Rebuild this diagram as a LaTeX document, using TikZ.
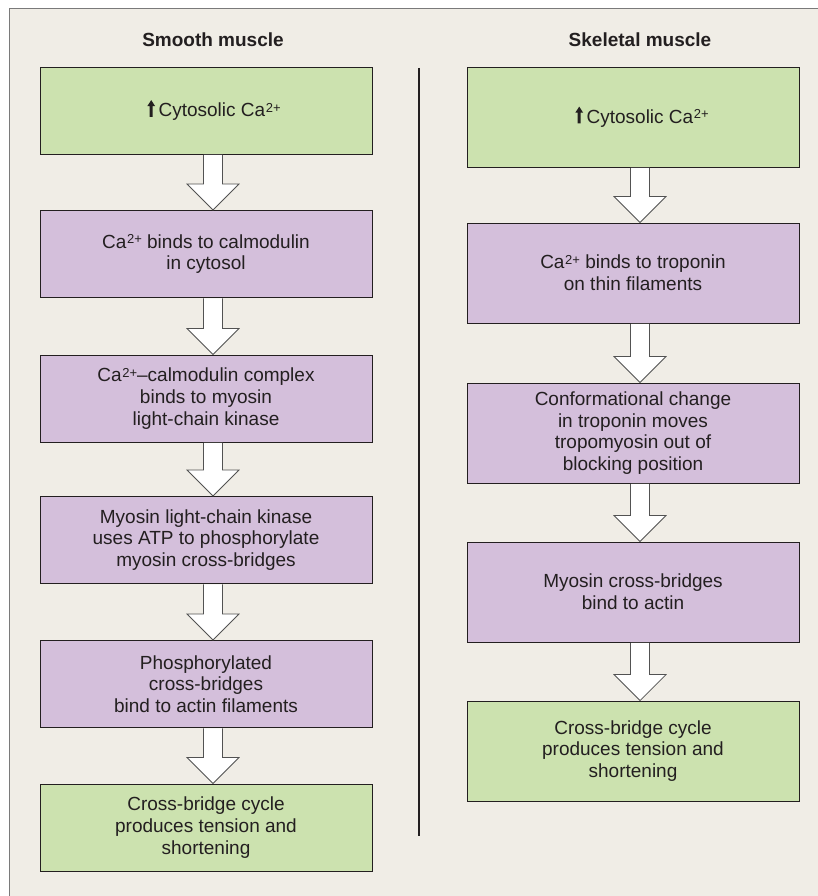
\documentclass[tikz,border=0pt]{standalone}
\usepackage{fontspec}
\setmainfont{Liberation Sans}
\usetikzlibrary{calc}

\definecolor{panelbg}{HTML}{F0EDE6}
\definecolor{panelrule}{HTML}{7A7A7A}
\definecolor{stepgreen}{HTML}{CCE2AF}
\definecolor{steppurple}{HTML}{D4BFDB}
\definecolor{inkgray}{HTML}{231F20}

% calcium ion with a raised charge
\newcommand\caion{Ca\kern0.6pt\raisebox{4.6pt}{\fontsize{13}{13}\selectfont 2+}}
% solid up arrow in front of the first step
\newcommand\uparr{\tikz[x=1pt,y=1pt,baseline=0pt]
  \fill[inkgray] (-1.5,0) -- (-1.5,10.8) -- (-3.9,10.8) -- (0,16.8)
    -- (3.9,10.8) -- (1.5,10.8) -- (1.5,0) -- cycle;\kern3.5pt}

% hollow block arrow from the bottom of one step to the top of the next
\newcommand\flowstep[2]{%
  \draw[flowarrow] let \p1=($(#1.south)+(7,0)$), \p2=($(#2.north)+(7,0)$) in
    (\x1-9.5pt,\y1-0.45pt) -- (\x1-9.5pt,\y2+26pt) -- (\x1-26pt,\y2+26pt)
    -- (\x1,\y2) -- (\x1+26pt,\y2+26pt) -- (\x1+9.5pt,\y2+26pt)
    -- (\x1+9.5pt,\y1-0.45pt);
}

\begin{document}
\begin{tikzpicture}[x=1pt,y=-1pt,
  font=\fontsize{19}{21.7}\selectfont, text=inkgray,
  stepbox/.style={draw=inkgray, line width=0.9pt, align=center,
    minimum width=332pt, inner sep=0pt},
  greenbox/.style={stepbox, fill=stepgreen},
  purplebox/.style={stepbox, fill=steppurple},
  lsmall/.style={minimum height=87pt},
  rtall/.style={minimum height=100pt},
  flowarrow/.style={draw=black!68, fill=white, line width=0.8pt, line join=miter},
  heading/.style={font=\fontsize{19}{21.7}\selectfont\bfseries}]

\useasboundingbox (0,0) rectangle (817,896);
\fill[white] (0,0) rectangle (817,896);
\draw[panelrule, fill=panelbg, line width=1pt] (9,9) rectangle (840,920);

% column headings and divider
\node[heading] (lhead) at (213,40) {Smooth muscle};
\node[heading] (rhead) at (640,40) {Skeletal muscle};
\draw[inkgray, line width=2pt] (419,68) -- (419,836);

% smooth muscle steps
\node[greenbox, lsmall]  (l1) at (206,110.5) {\hspace*{16pt}\uparr Cytosolic \caion};
\node[purplebox, lsmall] (l2) at (206,254)   {\caion{} binds to calmodulin\\in cytosol};
\node[purplebox, lsmall] (l3) at (206,398.5) {\caion–calmodulin complex\\binds to myosin\\light-chain kinase};
\node[purplebox, lsmall] (l4) at (206,540)   {Myosin light-chain kinase\\uses ATP to phosphorylate\\myosin cross-bridges};
\node[purplebox, lsmall] (l5) at (206,684)   {Phosphorylated\\cross-bridges\\bind to actin filaments};
\node[greenbox, lsmall]  (l6) at (206,827.5) {Cross-bridge cycle\\produces tension and\\shortening};

% skeletal muscle steps
\node[greenbox, rtall]  (r1) at (633,117) {\hspace*{18pt}\uparr Cytosolic \caion};
\node[purplebox, rtall] (r2) at (633,273) {\caion{} binds to troponin\\on thin filaments};
\node[purplebox, rtall] (r3) at (633,433) {Conformational change\\in troponin moves\\tropomyosin out of\\blocking position};
\node[purplebox, rtall] (r4) at (633,592) {Myosin cross-bridges\\bind to actin};
\node[greenbox, rtall]  (r5) at (633,751) {Cross-bridge cycle\\produces tension and\\shortening};

% arrows between steps
\flowstep{l1}{l2}
\flowstep{l2}{l3}
\flowstep{l3}{l4}
\flowstep{l4}{l5}
\flowstep{l5}{l6}
\flowstep{r1}{r2}
\flowstep{r2}{r3}
\flowstep{r3}{r4}
\flowstep{r4}{r5}
\end{tikzpicture}
\end{document}
